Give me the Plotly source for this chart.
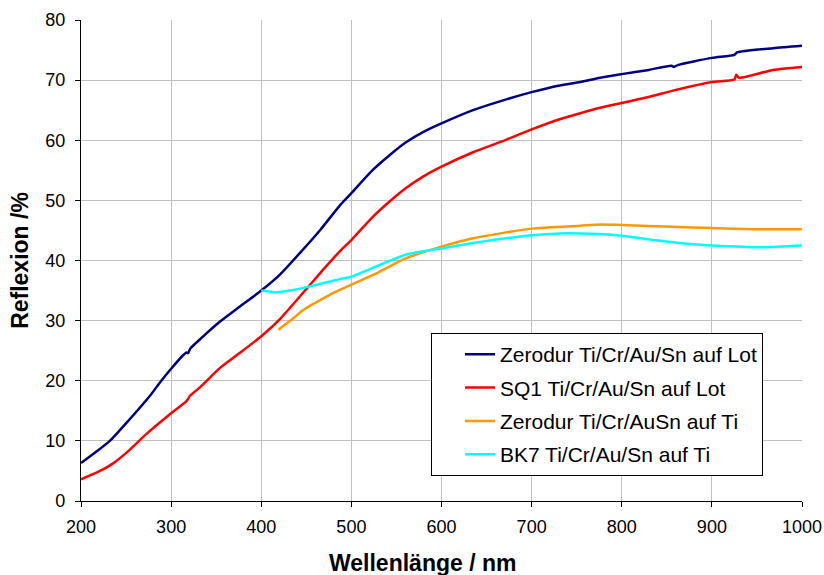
import plotly.graph_objects as go

# Wavelength (nm) and reflectance (%) for each coating stack
zerodur_lot_x = [200, 216, 232, 254, 277, 288, 300, 313, 317, 319, 321, 335, 354, 376, 400,
                 421, 445, 465, 488, 500, 524, 543, 561, 580, 600, 635, 672, 700, 731, 754,
                 776, 800, 830, 855, 858, 862, 900, 925, 928, 968, 1000]
zerodur_lot_y = [6.3, 8.1, 10.0, 13.6, 17.6, 19.8, 22.0, 24.2, 24.7, 24.6, 25.3, 27.3, 29.8, 32.3, 35.0,
                 37.7, 41.6, 45.0, 49.3, 51.2, 55.1, 57.6, 59.7, 61.4, 62.8, 65.0, 66.8, 68.0, 69.1, 69.7,
                 70.4, 71.0, 71.7, 72.4, 72.2, 72.5, 73.7, 74.2, 74.6, 75.3, 75.7]

sq1_lot_x = [200, 221, 236, 254, 273, 300, 317, 321, 332, 354, 376, 400, 421, 452, 470,
             489, 500, 524, 543, 561, 580, 600, 635, 672, 700, 731, 754, 776, 800, 830, 858,
             900, 925, 927, 930, 968, 1000]
sq1_lot_y = [3.6, 5.0, 6.3, 8.5, 11.2, 14.6, 16.6, 17.5, 18.9, 22.1, 24.6, 27.4, 30.3, 35.6, 38.7,
             41.8, 43.4, 47.3, 49.9, 52.1, 54.0, 55.6, 58.0, 60.1, 61.8, 63.5, 64.5, 65.4, 66.2, 67.2, 68.3,
             69.7, 70.1, 70.9, 70.4, 71.7, 72.2]

zerodur_ti_x = [419, 435, 447, 475, 487, 500, 524, 561, 600, 635, 700, 754, 776,
                800, 857, 900, 946, 1000]
zerodur_ti_y = [28.5, 30.3, 31.8, 34.2, 35.1, 36.0, 37.6, 40.4, 42.3, 43.7, 45.3, 45.8, 46.0,
                45.9, 45.6, 45.4, 45.2, 45.2]

bk7_ti_x = [400, 416, 432, 454, 487, 500, 521, 561, 600, 635, 700, 731, 754, 776,
            800, 835, 879, 900, 953, 1000]
bk7_ti_y = [35.0, 34.7, 35.0, 35.7, 36.9, 37.3, 38.6, 41.0, 42.0, 42.9, 44.2, 44.5, 44.5, 44.4,
            44.1, 43.4, 42.7, 42.5, 42.2, 42.5]

series = [
    ("Zerodur Ti/Cr/Au/Sn auf Lot", zerodur_lot_x, zerodur_lot_y, "#000080"),
    ("SQ1 Ti/Cr/Au/Sn auf Lot", sq1_lot_x, sq1_lot_y, "#FF0000"),
    ("Zerodur Ti/Cr/AuSn auf Ti", zerodur_ti_x, zerodur_ti_y, "#FF9900"),
    ("BK7 Ti/Cr/Au/Sn auf Ti", bk7_ti_x, bk7_ti_y, "#00FFFF"),
]

FONT = "Liberation Sans, Arial, sans-serif"

fig = go.Figure()
for i, (name, xs, ys, color) in enumerate(series):
    fig.add_trace(go.Scatter(
        x=xs, y=ys, name=name, mode="lines",
        line=dict(color=color, width=2.5, shape="spline", smoothing=0.6),
        legendgroup=f"g{i}",
    ))

fig.update_layout(
    width=824, height=575,
    margin=dict(l=81, r=22, t=20, b=74),
    paper_bgcolor="white", plot_bgcolor="white",
    font=dict(family=FONT, color="black", size=18),
    legend=dict(
        x=0.4854, y=0.349, xanchor="left", yanchor="top",
        bgcolor="white", bordercolor="black", borderwidth=1,
        font=dict(size=21, family=FONT),
        tracegroupgap=3, indentation=28, itemwidth=30,
    ),
    showlegend=True,
)

# x-axis title placed as a paper annotation below the tick labels
fig.add_annotation(
    text="<b>Wellenlänge / nm</b>", xref="paper", yref="paper",
    x=0.474, y=-0.128, xanchor="center", yanchor="middle",
    showarrow=False, font=dict(size=23, family=FONT, color="black"),
)

fig.update_xaxes(
    range=[200, 1000], tickmode="linear", tick0=200, dtick=100,
    showgrid=True, gridcolor="#c0c0c0", gridwidth=1,
    showline=True, linecolor="black", linewidth=1.3,
    ticks="outside", ticklen=5, tickcolor="black", tickwidth=1,
    tickfont=dict(size=18), zeroline=False, automargin=False,
    ticklabelstandoff=4,
)
fig.update_yaxes(
    range=[0, 80], tickmode="linear", tick0=0, dtick=10,
    showgrid=True, gridcolor="#c0c0c0", gridwidth=1,
    showline=True, linecolor="black", linewidth=1.3,
    ticks="outside", ticklen=5, tickcolor="black", tickwidth=1,
    tickfont=dict(size=18), zeroline=False, automargin=False,
    ticklabelstandoff=6,
    title=dict(text="<b>Reflexion /%</b>", font=dict(size=23), standoff=10),
)

fig.write_html("out.html")
